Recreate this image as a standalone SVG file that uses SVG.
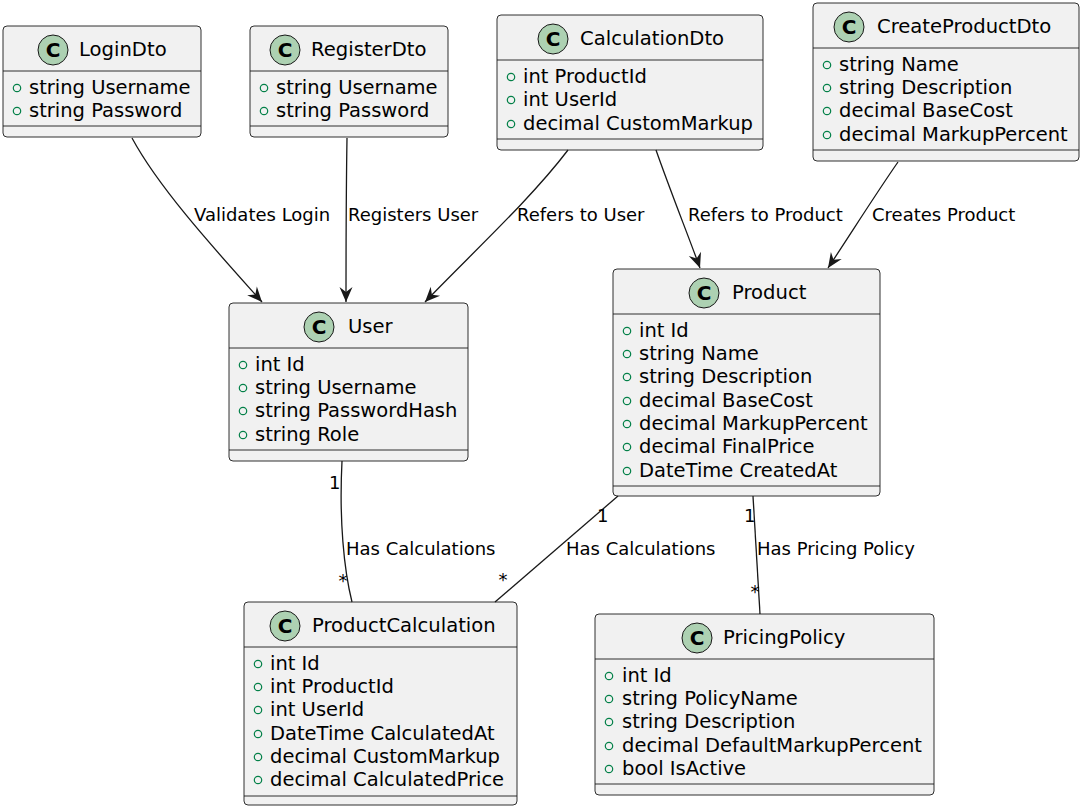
<svg xmlns="http://www.w3.org/2000/svg" width="1086" height="806" viewBox="0 0 1086 806">
<style>
.box{fill:#F1F1F1;stroke:#181818;stroke-width:0.9}
.div{stroke:#181818;stroke-width:0.9}
.ic{fill:#ADD1B2;stroke:#181818;stroke-width:1}
.icl{font-family:"DejaVu Sans",sans-serif;font-size:20px;font-weight:bold;fill:#000;text-anchor:middle}
.ttl{font-family:"DejaVu Sans",sans-serif;font-size:19.6px;fill:#000}
.att{font-family:"DejaVu Sans",sans-serif;font-size:19.5px;fill:#000}
.vis{fill:none;stroke:#038048;stroke-width:1.2}
.lbl{font-family:"DejaVu Sans",sans-serif;font-size:18px;fill:#000}
.edge{fill:none;stroke:#181818;stroke-width:1.3}
</style>
<defs>
<marker id="arr" viewBox="-16 -8 17 16" refX="0" refY="0" markerWidth="17" markerHeight="16" markerUnits="userSpaceOnUse" orient="auto">
<path d="M0,0 L-15,-6.5 L-10,0 L-15,6.5 Z" fill="#181818"/>
</marker>
</defs>

<g id="LoginDto">
<rect class="box" x="3" y="26" width="198" height="111" rx="4"/>
<circle class="ic" cx="53" cy="50" r="15"/><text class="icl" x="53" y="57">C</text>
<text class="ttl" x="79" y="56">LoginDto</text>
<line class="div" x1="3" y1="71" x2="201" y2="71"/>
<circle class="vis" cx="17" cy="88" r="3.7"/><text class="att" x="29" y="94">string Username</text>
<circle class="vis" cx="17" cy="111" r="3.7"/><text class="att" x="29" y="117">string Password</text>
<line class="div" x1="3" y1="126" x2="201" y2="126"/>
</g>

<g id="RegisterDto">
<rect class="box" x="250" y="26" width="198" height="111" rx="4"/>
<circle class="ic" cx="285" cy="50" r="15"/><text class="icl" x="285" y="57">C</text>
<text class="ttl" x="311" y="56">RegisterDto</text>
<line class="div" x1="250" y1="71" x2="448" y2="71"/>
<circle class="vis" cx="264" cy="88" r="3.7"/><text class="att" x="276" y="94">string Username</text>
<circle class="vis" cx="264" cy="111" r="3.7"/><text class="att" x="276" y="117">string Password</text>
<line class="div" x1="250" y1="126" x2="448" y2="126"/>
</g>

<g id="CalculationDto">
<rect class="box" x="497" y="15" width="266" height="135" rx="4"/>
<circle class="ic" cx="553" cy="39" r="15"/><text class="icl" x="553" y="46">C</text>
<text class="ttl" x="580" y="45">CalculationDto</text>
<line class="div" x1="497" y1="60" x2="763" y2="60"/>
<circle class="vis" cx="511" cy="77" r="3.7"/><text class="att" x="523" y="83">int ProductId</text>
<circle class="vis" cx="511" cy="100" r="3.7"/><text class="att" x="523" y="106">int UserId</text>
<circle class="vis" cx="511" cy="124" r="3.7"/><text class="att" x="523" y="130">decimal CustomMarkup</text>
<line class="div" x1="497" y1="139" x2="763" y2="139"/>
</g>

<g id="CreateProductDto">
<rect class="box" x="813" y="3" width="266" height="158" rx="4"/>
<circle class="ic" cx="849" cy="27" r="15"/><text class="icl" x="849" y="34">C</text>
<text class="ttl" x="877" y="33">CreateProductDto</text>
<line class="div" x1="813" y1="48" x2="1079" y2="48"/>
<circle class="vis" cx="827" cy="65" r="3.7"/><text class="att" x="839" y="71">string Name</text>
<circle class="vis" cx="827" cy="88" r="3.7"/><text class="att" x="839" y="94">string Description</text>
<circle class="vis" cx="827" cy="111" r="3.7"/><text class="att" x="839" y="117">decimal BaseCost</text>
<circle class="vis" cx="827" cy="135" r="3.7"/><text class="att" x="839" y="141">decimal MarkupPercent</text>
<line class="div" x1="813" y1="150" x2="1079" y2="150"/>
</g>

<g id="User">
<rect class="box" x="229" y="303" width="239" height="158" rx="4"/>
<circle class="ic" cx="319" cy="327" r="15"/><text class="icl" x="319" y="334">C</text>
<text class="ttl" x="348" y="333">User</text>
<line class="div" x1="229" y1="348" x2="468" y2="348"/>
<circle class="vis" cx="243" cy="365" r="3.7"/><text class="att" x="255" y="371">int Id</text>
<circle class="vis" cx="243" cy="388" r="3.7"/><text class="att" x="255" y="394">string Username</text>
<circle class="vis" cx="243" cy="411" r="3.7"/><text class="att" x="255" y="417">string PasswordHash</text>
<circle class="vis" cx="243" cy="435" r="3.7"/><text class="att" x="255" y="441">string Role</text>
<line class="div" x1="229" y1="450" x2="468" y2="450"/>
</g>

<g id="Product">
<rect class="box" x="613" y="269" width="267" height="227" rx="4"/>
<circle class="ic" cx="704" cy="293" r="15"/><text class="icl" x="704" y="300">C</text>
<text class="ttl" x="732" y="299">Product</text>
<line class="div" x1="613" y1="314" x2="880" y2="314"/>
<circle class="vis" cx="627" cy="331" r="3.7"/><text class="att" x="639" y="337">int Id</text>
<circle class="vis" cx="627" cy="354" r="3.7"/><text class="att" x="639" y="360">string Name</text>
<circle class="vis" cx="627" cy="377" r="3.7"/><text class="att" x="639" y="383">string Description</text>
<circle class="vis" cx="627" cy="401" r="3.7"/><text class="att" x="639" y="407">decimal BaseCost</text>
<circle class="vis" cx="627" cy="424" r="3.7"/><text class="att" x="639" y="430">decimal MarkupPercent</text>
<circle class="vis" cx="627" cy="447" r="3.7"/><text class="att" x="639" y="453">decimal FinalPrice</text>
<circle class="vis" cx="627" cy="471" r="3.7"/><text class="att" x="639" y="477">DateTime CreatedAt</text>
<line class="div" x1="613" y1="486" x2="880" y2="486"/>
</g>

<g id="ProductCalculation">
<rect class="box" x="244" y="602" width="273" height="203" rx="4"/>
<circle class="ic" cx="285" cy="626" r="15"/><text class="icl" x="285" y="633">C</text>
<text class="ttl" x="312" y="632">ProductCalculation</text>
<line class="div" x1="244" y1="647" x2="517" y2="647"/>
<circle class="vis" cx="258" cy="664" r="3.7"/><text class="att" x="270" y="670">int Id</text>
<circle class="vis" cx="258" cy="687" r="3.7"/><text class="att" x="270" y="693">int ProductId</text>
<circle class="vis" cx="258" cy="710" r="3.7"/><text class="att" x="270" y="716">int UserId</text>
<circle class="vis" cx="258" cy="734" r="3.7"/><text class="att" x="270" y="740">DateTime CalculatedAt</text>
<circle class="vis" cx="258" cy="757" r="3.7"/><text class="att" x="270" y="763">decimal CustomMarkup</text>
<circle class="vis" cx="258" cy="780" r="3.7"/><text class="att" x="270" y="786">decimal CalculatedPrice</text>
<line class="div" x1="244" y1="796" x2="517" y2="796"/>
</g>

<g id="PricingPolicy">
<rect class="box" x="595" y="614" width="339" height="181" rx="4"/>
<circle class="ic" cx="697" cy="638" r="15"/><text class="icl" x="697" y="645">C</text>
<text class="ttl" x="723" y="644">PricingPolicy</text>
<line class="div" x1="595" y1="659" x2="934" y2="659"/>
<circle class="vis" cx="609" cy="676" r="3.7"/><text class="att" x="622" y="682">int Id</text>
<circle class="vis" cx="609" cy="699" r="3.7"/><text class="att" x="622" y="705">string PolicyName</text>
<circle class="vis" cx="609" cy="722" r="3.7"/><text class="att" x="622" y="728">string Description</text>
<circle class="vis" cx="609" cy="746" r="3.7"/><text class="att" x="622" y="752">decimal DefaultMarkupPercent</text>
<circle class="vis" cx="609" cy="769" r="3.7"/><text class="att" x="622" y="775">bool IsActive</text>
<line class="div" x1="595" y1="784" x2="934" y2="784"/>
</g>

<g id="connectors">
<path class="edge" d="M132,138 C160,190 220,255 262,302" marker-end="url(#arr)"/>
<path class="edge" d="M347,138 C346,200 346,250 346,302" marker-end="url(#arr)"/>
<path class="edge" d="M568,150 C530,200 470,255 425,302" marker-end="url(#arr)"/>
<path class="edge" d="M656,150 C670,190 688,235 700,268" marker-end="url(#arr)"/>
<path class="edge" d="M898,162 C875,195 850,235 828,268" marker-end="url(#arr)"/>
<path class="edge" d="M342,461 C339,520 344,570 352,602"/>
<path class="edge" d="M618,496 L495,602"/>
<path class="edge" d="M753,496 L760,614"/>
<text class="lbl" x="194" y="221">Validates Login</text>
<text class="lbl" x="348" y="221">Registers User</text>
<text class="lbl" x="517" y="221">Refers to User</text>
<text class="lbl" x="688" y="221">Refers to Product</text>
<text class="lbl" x="872" y="221">Creates Product</text>
<text class="lbl" x="346" y="555">Has Calculations</text>
<text class="lbl" x="566" y="555">Has Calculations</text>
<text class="lbl" x="757" y="555">Has Pricing Policy</text>
<text class="lbl" x="329" y="489">1</text>
<text class="lbl" x="343" y="587" text-anchor="middle">*</text>
<text class="lbl" x="597" y="522">1</text>
<text class="lbl" x="503" y="586" text-anchor="middle">*</text>
<text class="lbl" x="744" y="522">1</text>
<text class="lbl" x="755" y="598" text-anchor="middle">*</text>
</g>
</svg>
